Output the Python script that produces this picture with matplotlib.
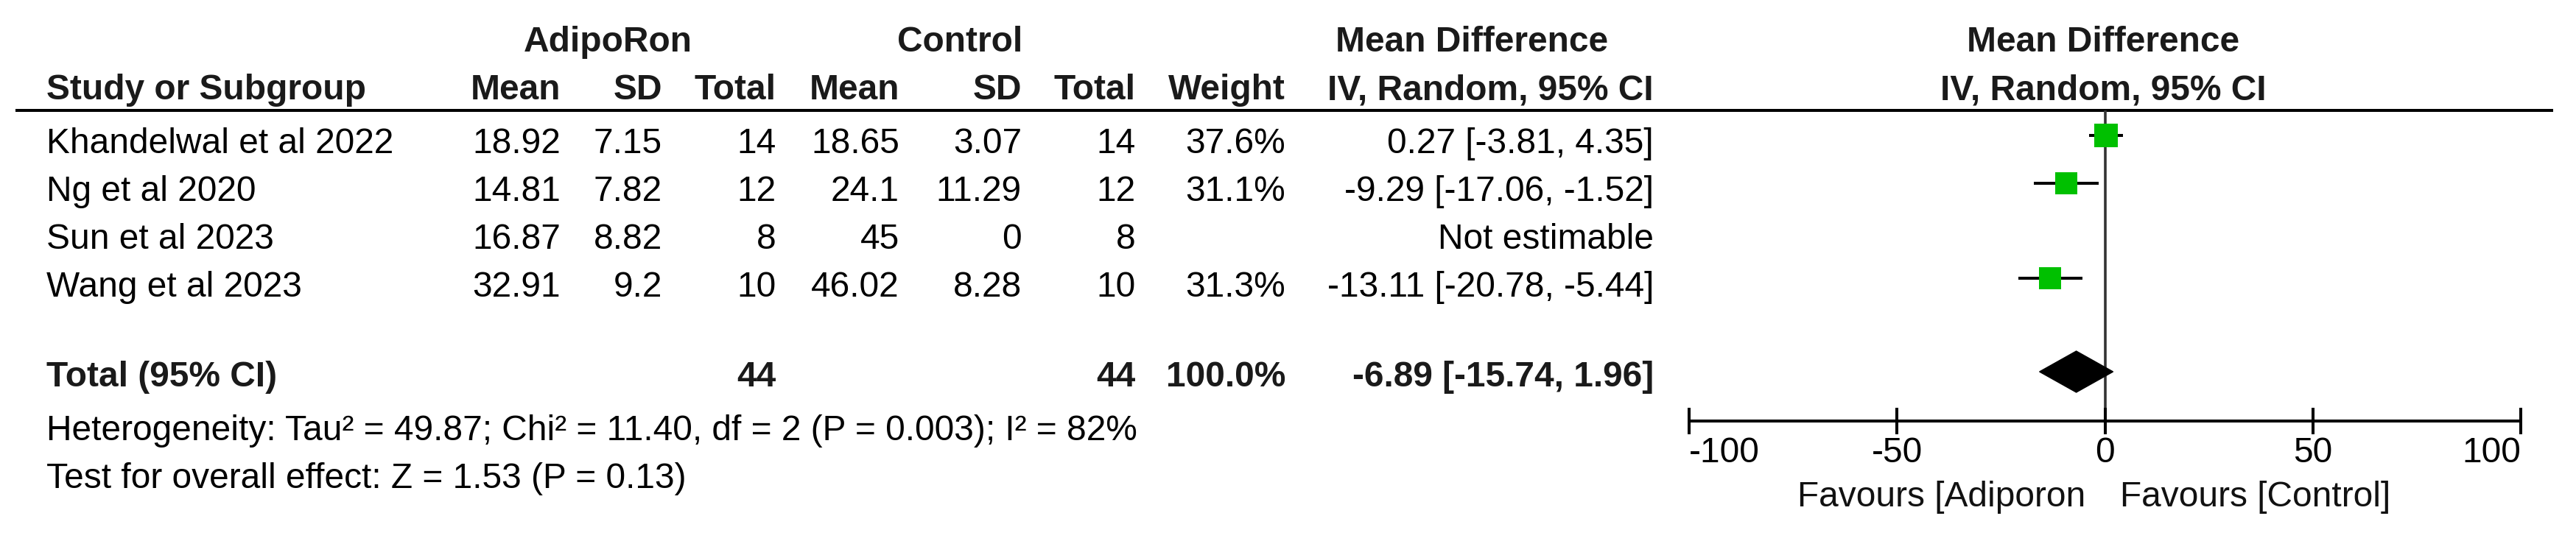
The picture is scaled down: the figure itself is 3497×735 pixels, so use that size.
import numpy as np
import matplotlib
matplotlib.use("Agg")
import matplotlib.pyplot as plt

plt.rcParams['font.family'] = ['Liberation Sans', 'DejaVu Sans']

# ---- data ----
studies = ["Khandelwal et al 2022", "Ng et al 2020", "Sun et al 2023", "Wang et al 2023"]
adipo_mean = [18.92, 14.81, 16.87, 32.91]
adipo_sd = [7.15, 7.82, 8.82, 9.2]
adipo_n = [14, 12, 8, 10]
ctrl_mean = [18.65, 24.1, 45, 46.02]
ctrl_sd = [3.07, 11.29, 0, 8.28]
ctrl_n = [14, 12, 8, 10]
weights = [37.6, 31.1, None, 31.3]
md = [0.27, -9.29, None, -13.11]
ci_lo = [-3.81, -17.06, None, -20.78]
ci_hi = [4.35, -1.52, None, -5.44]
total_md, total_lo, total_hi = -6.89, -15.74, 1.96
total_adipo_n, total_ctrl_n, total_weight = 44, 44, 100.0
heterogeneity = "Heterogeneity: Tau\u00b2 = 49.87; Chi\u00b2 = 11.40, df = 2 (P = 0.003); I\u00b2 = 82%"
overall = "Test for overall effect: Z = 1.53 (P = 0.13)"
xticks = [-100, -50, 0, 50, 100]
favours_left = "Favours [Adiporon"
favours_right = "Favours [Control]"

W, H = 3498, 735
fig = plt.figure(figsize=(W / 100, H / 100), dpi=100)

# text layer in pixel coordinates
axt = fig.add_axes([0, 0, 1, 1])
axt.set_xlim(0, W)
axt.set_ylim(H, 0)
axt.axis('off')

FS = 34.5
hc = '#1a1a1a'

def t(x, y, s, ha='right', bold=False, color='black'):
    axt.text(x, y, s, ha=ha, va='baseline', fontsize=FS,
             fontweight='bold' if bold else 'normal', color=color if not bold else hc)

# header row 1
t(825, 70, "AdipoRon", ha='center', bold=True)
t(1303, 70, "Control", ha='center', bold=True)
t(1998, 70, "Mean Difference", ha='center', bold=True)
t(2855, 70, "Mean Difference", ha='center', bold=True)
# header row 2
t(63, 135, "Study or Subgroup", ha='left', bold=True)
cols = [761, 899, 1054, 1221, 1387, 1542, 1745, 2245]
for x, s in zip(cols, ["Mean", "SD", "Total", "Mean", "SD", "Total", "Weight", "IV, Random, 95% CI"]):
    t(x, 135, s, bold=True)
t(2855, 135, "IV, Random, 95% CI", ha='center', bold=True)

axt.plot([21, 3466], [150, 150], color='black', lw=2.9, solid_capstyle='butt')

for i, name in enumerate(studies):
    yb = 208 + 65 * i
    t(63, yb, name, ha='left')
    vals = ['{:g}'.format(adipo_mean[i]), '{:g}'.format(adipo_sd[i]), str(adipo_n[i]),
            '{:g}'.format(ctrl_mean[i]), '{:g}'.format(ctrl_sd[i]), str(ctrl_n[i])]
    for x, s in zip(cols[:6], vals):
        t(x, yb, s)
    if weights[i] is not None:
        t(cols[6], yb, '{:.1f}%'.format(weights[i]))
        t(cols[7], yb, '{:.2f} [{:.2f}, {:.2f}]'.format(md[i], ci_lo[i], ci_hi[i]))
    else:
        t(cols[7], yb, "Not estimable")

ytot = 525
t(63, ytot, "Total (95% CI)", ha='left', bold=True)
t(cols[2], ytot, str(total_adipo_n), bold=True)
t(cols[5], ytot, str(total_ctrl_n), bold=True)
t(cols[6], ytot, '{:.1f}%'.format(total_weight), bold=True)
t(cols[7], ytot, '{:.2f} [{:.2f}, {:.2f}]'.format(total_md, total_lo, total_hi), bold=True)
t(63, 598, heterogeneity, ha='left')
t(63, 663, overall, ha='left')

# forest axes: x in data units, y in pixel-from-top units
x0, x1 = 2293, 3422
ytop, ybot = 150, 572
axf = fig.add_axes([x0 / W, 1 - ybot / H, (x1 - x0) / W, (ybot - ytop) / H])
axf.set_xlim(-100, 100)
axf.set_ylim(ybot, ytop)
axf.patch.set_alpha(0)
for sp in ['top', 'left', 'right']:
    axf.spines[sp].set_visible(False)
axf.spines['bottom'].set_linewidth(2.9)
axf.spines['bottom'].set_capstyle('butt')
axf.set_yticks([])
axf.set_xticks(xticks)
axf.tick_params(axis='x', direction='inout', length=26.6, width=2.9, pad=2,
                labelsize=FS, colors='black')
labels = axf.set_xticklabels([str(v) for v in xticks])
labels[0].set_ha('left')
labels[-1].set_ha('right')

axf.axvline(0, color='#333333', lw=2.6, zorder=1)

px_per_unit = (x1 - x0) / 200.0
for i in range(len(studies)):
    if weights[i] is None:
        continue
    yc = 184 + 64.5 * i
    axf.plot([ci_lo[i], ci_hi[i]], [yc, yc], color='black', lw=2.9, solid_capstyle='butt', zorder=2)
    side_px = 5.22 * np.sqrt(weights[i])
    axf.plot([md[i]], [yc], marker='s', markersize=side_px * 0.72, color='#00c000',
             markeredgewidth=0, zorder=3, clip_on=False)

yd = 505
axf.fill([total_lo, total_md, total_hi, total_md], [yd, yd - 28, yd, yd + 28],
         color='black', zorder=3, clip_on=False)

axt.text(2831, 688, favours_left, ha='right', va='baseline', fontsize=FS, color='#111111')
axt.text(2878, 688, favours_right, ha='left', va='baseline', fontsize=FS, color='#111111')

fig.savefig('out.png', dpi=100)
